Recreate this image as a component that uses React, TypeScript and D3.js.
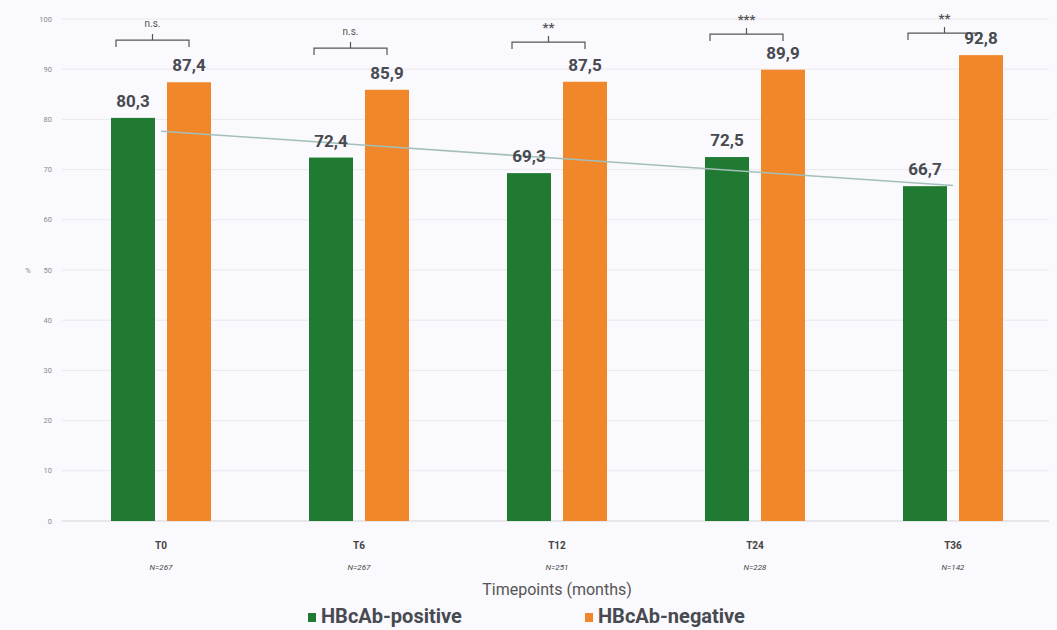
import React from "react";
import * as d3 from "d3";

const categories = ["T0", "T6", "T12", "T24", "T36"];
const sampleSizes = ["N=267", "N=267", "N=251", "N=228", "N=142"];
const positiveValues = [80.3, 72.4, 69.3, 72.5, 66.7];
const negativeValues = [87.4, 85.9, 87.5, 89.9, 92.8];
const seriesNames = ["HBcAb-positive", "HBcAb-negative"];
const seriesColors = ["#217a32", "#f0872a"];
const significance = ["n.s.", "n.s.", "**", "***", "**"];
const sigLevels = [95.8, 94.2, 95.4, 97.0, 97.2];
const yTicks = [0, 10, 20, 30, 40, 50, 60, 70, 80, 90, 100];

const W = 1057;
const H = 630;
const M = { left: 62, right: 5, top: 19, bottom: 109 };

export default function App() {
  const x0 = d3
    .scaleBand<string>()
    .domain(categories)
    .range([M.left, W - M.right])
    .padding(0);
  const bw = x0.bandwidth();
  const x1 = d3
    .scaleBand<string>()
    .domain(seriesNames)
    .range([bw / 2 - 50, bw / 2 + 50])
    .paddingInner(0.2143)
    .paddingOuter(0);
  const y = d3.scaleLinear().domain([0, 100]).range([H - M.bottom, M.top]);

  // linear trendline for positive series
  const xs = positiveValues.map((_, i) => i);
  const mx = d3.mean(xs)!;
  const my = d3.mean(positiveValues)!;
  const slope =
    d3.sum(xs.map((xi, i) => (xi - mx) * (positiveValues[i] - my))) /
    d3.sum(xs.map((xi) => (xi - mx) ** 2));
  const icpt = my - slope * mx;
  const trend = d3
    .line<number>()
    .x((i) => x0(categories[i])! + bw / 2)
    .y((i) => y(icpt + slope * i));

  const series = [positiveValues, negativeValues];
  const font = "Roboto, 'Liberation Sans', sans-serif";

  return (
    <svg width={W} height={H} style={{ position: "absolute", left: 0, top: 0, background: "#faf9fd" }} fontFamily={font}>
      <rect x={0} y={0} width={W} height={H} fill="#faf9fd" />
      {yTicks.map((t) => (
        <g key={t}>
          <line x1={M.left} x2={W - 8} y1={y(t)} y2={y(t)} stroke={t === 0 ? "#d4d4d8" : "#e9e8ee"} strokeWidth={1} />
          <text x={52} y={y(t)} dy="0.35em" textAnchor="end" fontSize={7.5} fill="#8a8a8a">
            {t}
          </text>
        </g>
      ))}
      <text x={28} y={y(50)} dy="0.35em" textAnchor="middle" fontSize={7.5} fill="#8a8a8a">
        %
      </text>
      {categories.map((c, ci) => (
        <g key={c} transform={`translate(${x0(c)},0)`}>
          {series.map((vals, si) => (
            <rect
              key={si}
              x={x1(seriesNames[si])}
              y={y(vals[ci])}
              width={x1.bandwidth()}
              height={y(0) - y(vals[ci])}
              fill={seriesColors[si]}
            />
          ))}
        </g>
      ))}
      <path d={trend(xs) || ""} fill="none" stroke="#a3bfba" strokeWidth={1.5} />
      {categories.map((c, ci) => (
        <g key={c + "l"} transform={`translate(${x0(c)},0)`}>
          {(() => {
            const l = x1(seriesNames[0])! + 5;
            const r = x1(seriesNames[1])! + x1.bandwidth() - 22;
            const m = (l + r) / 2;
            const by = y(sigLevels[ci]);
            const isNs = significance[ci] === "n.s.";
            return (
              <g>
                <path
                  d={`M${l},${by + 7}V${by}H${r}V${by + 7}M${m},${by}V${by - 6}`}
                  fill="none"
                  stroke="#555"
                  strokeWidth={1.2}
                />
                <text
                  x={m}
                  y={isNs ? by - 13 : by - 10}
                  textAnchor="middle"
                  fontSize={isNs ? 10 : 13}
                  fill="#555"
                  fontWeight={isNs ? "normal" : "bold"}
                >
                  {significance[ci]}
                </text>
              </g>
            );
          })()}
          {series.map((vals, si) => (
            <text
              key={si}
              x={x1(seriesNames[si])! + x1.bandwidth() / 2}
              y={y(vals[ci]) - 11}
              textAnchor="middle"
              fontSize={17}
              fontWeight="bold"
              fill="#474a50"
            >
              {vals[ci].toFixed(1).replace(".", ",")}
            </text>
          ))}
          <text x={bw / 2} y={549} textAnchor="middle" fontSize={10} fontWeight="bold" fill="#444">
            {c}
          </text>
          <text x={bw / 2} y={570} textAnchor="middle" fontSize={8} fontStyle="italic" fill="#444">
            {sampleSizes[ci]}
          </text>
        </g>
      ))}
      <text x={x0("T12")! + bw / 2} y={595} textAnchor="middle" fontSize={16} fill="#555">
        Timepoints (months)
      </text>
      {seriesNames.map((s, i) => {
        const lx = i === 0 ? 308 : 585;
        return (
          <g key={s}>
            <rect x={lx} y={613} width={8} height={9} fill={seriesColors[i]} />
            <text x={lx + 13} y={623} fontSize={20} fontWeight="bold" fill="#474a50">
              {s}
            </text>
          </g>
        );
      })}
    </svg>
  );
}
